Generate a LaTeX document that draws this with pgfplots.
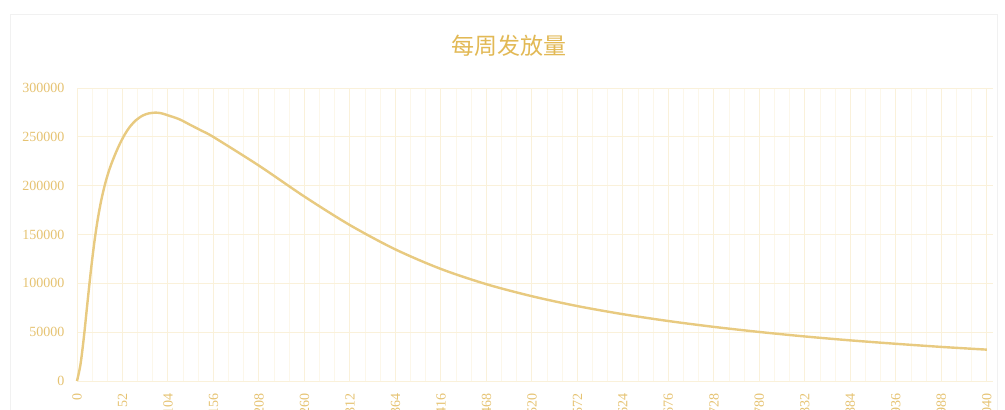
\documentclass[border=0pt]{standalone}
\usepackage{pgfplots}
\pgfplotsset{compat=1.18}
\usepackage{fontspec}
\setmainfont{Liberation Serif}
\newfontfamily\cjk{Noto Sans CJK SC}
\definecolor{gold}{HTML}{E8CA80}
\definecolor{titlegold}{HTML}{E2B955}
\definecolor{ticktext}{HTML}{E6C372}
\definecolor{gridmaj}{HTML}{FAF1DA}
\definecolor{gridmin}{HTML}{FCF7EA}
\definecolor{framec}{HTML}{F1F1F1}
\begin{document}
\begin{tikzpicture}[x=1pt,y=1pt]
\useasboundingbox (0,0) rectangle (1005,410);
\clip (0,0) rectangle (1005,410);
\fill[white] (0,0) rectangle (1005,410);
\draw[framec] (10,-10) -- (10,396) -- (997,396) -- (997,-10);
\node[text=titlegold, font=\cjk\fontsize{23}{26}\selectfont] at (509,364) {每周发放量};
\begin{axis}[
  at={(77pt,29pt)}, anchor=south west,
  scale only axis, width=916pt, height=293pt,
  xmin=0, xmax=1047, ymin=0, ymax=300000,
  xtick={0,52,...,1040},
  xticklabels={0,52,104,156,208,260,312,364,416,468,520,572,624,676,728,780,832,884,936,988,1040},
  minor x tick num=2,
  ytick={0,50000,...,300000},
  yticklabels={0,50000,100000,150000,200000,250000,300000},
  scaled y ticks=false,
  major tick length=0pt, minor tick length=0pt,
  grid=both,
  major grid style={gridmaj, line width=1pt},
  minor grid style={gridmin, line width=0.8pt},
  axis line style={draw=none},
  tick label style={text=ticktext, font=\fontsize{14}{16}\selectfont},
  yticklabel style={xshift=-9pt},
  xticklabel style={rotate=90, anchor=east, xshift=-9pt},
  clip=false,
]
\addplot[gold, line width=2.4pt, smooth, tension=0.5] coordinates {
(0,0) (4,17000) (8,46000) (12,80600) (16,114000) (20,143200) (24,167200)
(28,186200) (32,201400) (36,213800) (40,224000) (45,235000) (50,244750)
(55,253000) (60,259750) (67,266750) (75,271750) (82,274000) (90,274800)
(97,274000) (104,272000) (117,268000) (130,262000) (143,256000) (156,249800)
(208,220500) (260,188800) (312,159600) (364,134700) (416,114700) (468,99100)
(520,86800) (572,76700) (624,68400) (676,61400) (728,55400) (780,50200)
(832,45600) (884,41600) (936,38100) (988,34900) (1040,32100)
};
\end{axis}
\end{tikzpicture}
\end{document}
